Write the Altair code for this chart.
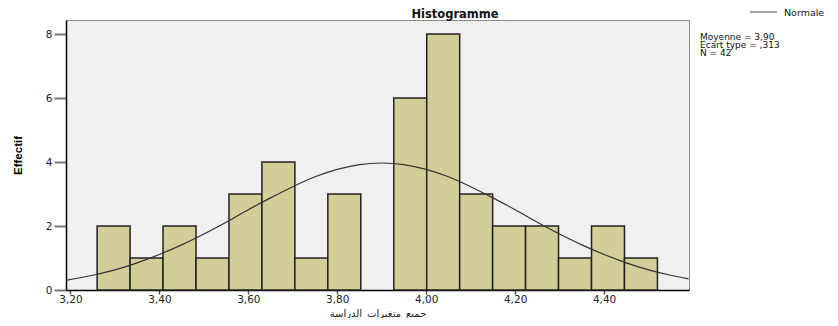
import altair as alt
import pandas as pd

# ---- data ----
bin_edges = [3.26, 3.3341, 3.4082, 3.4824, 3.5565, 3.6306, 3.7047, 3.7788, 3.8529,
             3.9271, 4.0012, 4.0753, 4.1494, 4.2235, 4.2976, 4.3718, 4.4459, 4.52]
counts = [2, 1, 2, 1, 3, 4, 1, 3, 0, 6, 8, 3, 2, 2, 1, 2, 1]

curve_x = [3.19, 3.25, 3.30, 3.35, 3.40, 3.45, 3.50, 3.55, 3.60, 3.65, 3.70, 3.75,
           3.80, 3.85, 3.90, 3.95, 4.00, 4.05, 4.10, 4.15, 4.20, 4.25, 4.30, 4.35,
           4.40, 4.45, 4.50, 4.55, 4.59]
curve_y = [0.30, 0.46, 0.63, 0.85, 1.11, 1.41, 1.75, 2.12, 2.51, 2.88, 3.23, 3.54,
           3.77, 3.92, 3.97, 3.92, 3.77, 3.54, 3.23, 2.88, 2.51, 2.12, 1.75, 1.41,
           1.11, 0.85, 0.63, 0.46, 0.35]

x_ticks = [3.2, 3.4, 3.6, 3.8, 4.0, 4.2, 4.4]
y_ticks = [0, 2, 4, 6, 8]

title_text = "Histogramme"
x_title = "جميع_متغيرات_الدراسة"
y_title = "Effectif"
legend_label = "Normale"
stats_lines = ["Moyenne = 3,90", "Ecart type = ,313", "N = 42"]

# ---- tables ----
bars = pd.DataFrame({"x": bin_edges[:-1], "x2": bin_edges[1:], "y": counts})
bars = bars[bars["y"] > 0]
curve = pd.DataFrame({"x": curve_x, "y": curve_y})

FONT = "DejaVu Sans"
xscale = alt.Scale(domain=[3.19, 4.591], nice=False, zero=False)
yscale = alt.Scale(domain=[0, 8.44], nice=False)

xaxis = alt.Axis(values=x_ticks, title=x_title, grid=False,
                 labelExpr="replace(format(datum.value, '.2f'), '.', ',')",
                 domainColor="#000", domainWidth=1.5, tickColor="#555", tickWidth=1.5,
                 tickSize=4, labelPadding=0, labelFont=FONT, labelFontSize=10.5,
                 labelColor="#222", titleFont=FONT, titleFontSize=10,
                 titleFontWeight="normal", titleColor="#222", titleY=23,
                 titleBaseline="middle")
yaxis = alt.Axis(values=y_ticks, title=y_title, grid=False, format="d",
                 domainColor="#000", domainWidth=1.5, tickColor="#777", tickWidth=2,
                 tickSize=12, labelPadding=2, labelAlign="right", labelBaseline="middle",
                 labelFont=FONT, labelFontSize=10.5, labelColor="#222",
                 titleFont="Liberation Sans Narrow, Liberation Sans", titleFontSize=11.5,
                 titleFontWeight="bold", titleColor="#000", titleX=-48, titleY=135,
                 titleBaseline="middle", titleAlign="center", titleAngle=270)

bar_layer = alt.Chart(bars).mark_rect(
    fill="#d3ce97", stroke="#222", strokeWidth=1.5
).encode(
    x=alt.X("x:Q", scale=xscale, axis=xaxis),
    x2="x2:Q",
    y=alt.Y("y:Q", scale=yscale, axis=yaxis),
    y2=alt.datum(0),
)

curve_layer = alt.Chart(curve).mark_line(
    color="#333", strokeWidth=1.2, interpolate="monotone"
).encode(
    x=alt.X("x:Q", scale=xscale, axis=xaxis),
    y=alt.Y("y:Q", scale=yscale, axis=yaxis),
)

def text_at(t, x, y, size, weight="normal", align="left", baseline="middle", font=FONT):
    return alt.Chart(pd.DataFrame({"t": [t]})).mark_text(
        align=align, baseline=baseline, font=font, fontSize=size,
        fontWeight=weight, color="#111"
    ).encode(x=alt.value(x), y=alt.value(y), text="t:N")

title_layer = text_at(title_text, 389, -2.5, 11.5, weight="bold", align="center",
                      baseline="alphabetic")
legend_line = alt.Chart(pd.DataFrame({"t": [legend_label]})).mark_rule(
    color="#444", strokeWidth=1
).encode(x=alt.value(684), x2=alt.value(711), y=alt.value(-8))
legend_text = text_at(legend_label, 718, -4, 9.5, baseline="alphabetic")
stats_layers = [text_at(s, 634, y, 9) for s, y in zip(stats_lines, [16.5, 24.5, 32.5])]

chart = alt.layer(
    bar_layer, curve_layer, title_layer, legend_line, legend_text, *stats_layers
).properties(
    width=623, height=270,
    padding={"left": 58, "top": 12, "right": 141, "bottom": 28},
    autosize=alt.AutoSizeParams(type="none"),
    background="#ffffff",
).configure_view(
    fill="#f0f0f0", stroke="#8c8c8c", strokeWidth=1
)

chart.save("out.html", embed_options={"renderer": "svg", "actions": False})
